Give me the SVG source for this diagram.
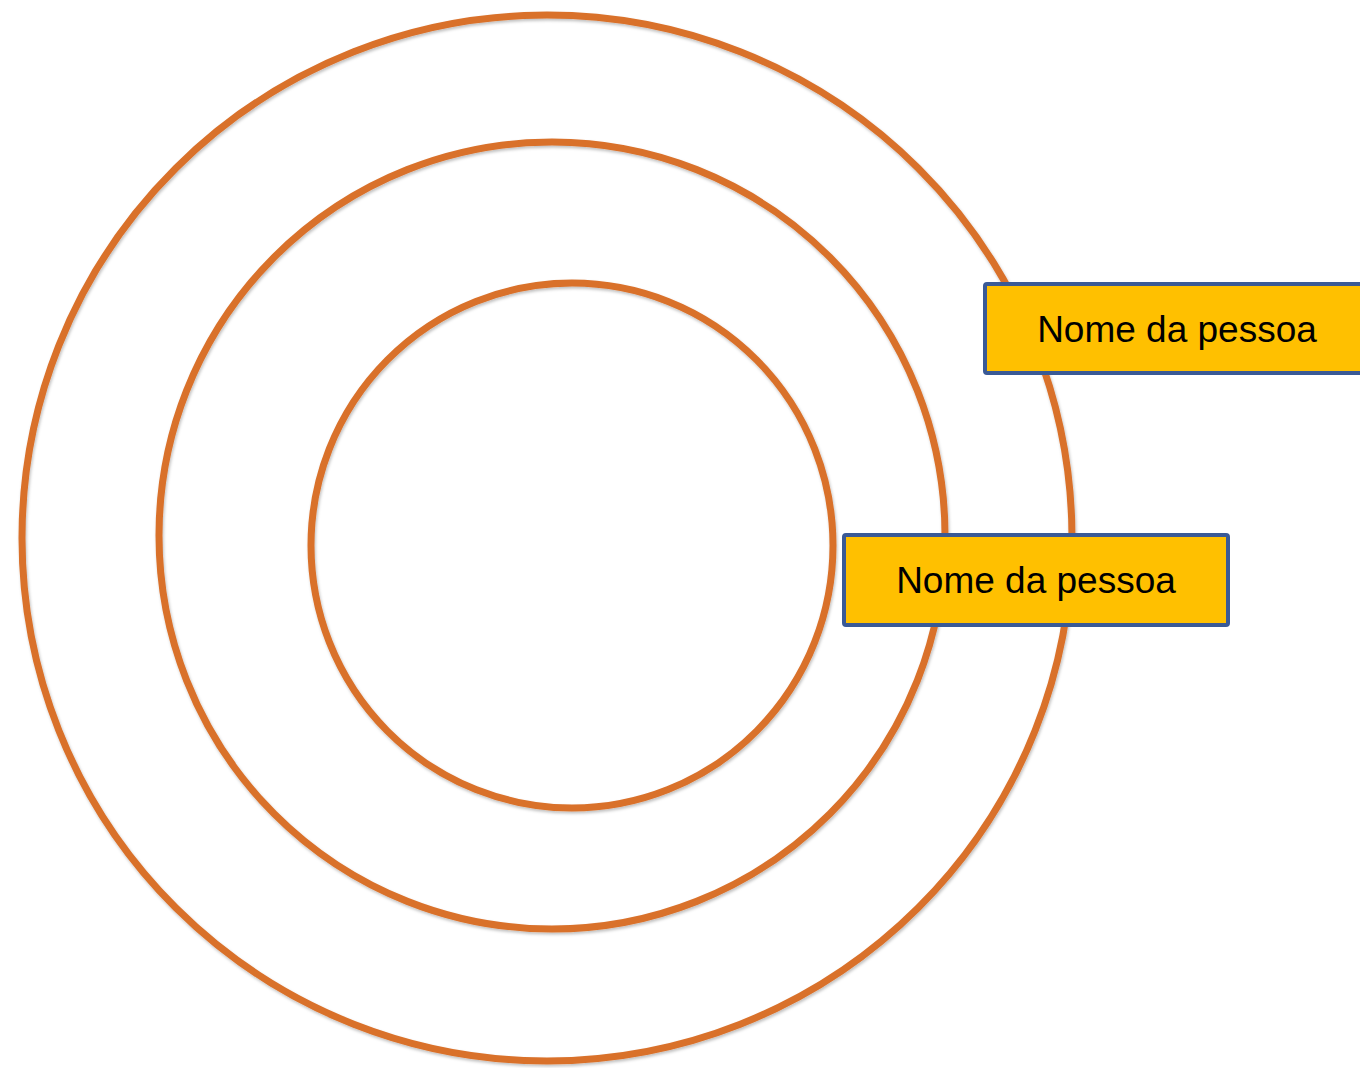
<svg xmlns="http://www.w3.org/2000/svg" width="1360" height="1068" viewBox="0 0 1360 1068">
<defs>
<filter id="sh" x="-5%" y="-5%" width="110%" height="110%">
<feDropShadow dx="1" dy="2" stdDeviation="1.5" flood-color="#000" flood-opacity="0.25"/>
</filter>
<style>
.ring{fill:none;stroke:#D9712B;stroke-width:7;filter:url(#sh)}
.box{fill:#FFC000;stroke:#3A5A96;stroke-width:4}
.lbl{font-family:"Liberation Sans",Arial,sans-serif;font-size:37px;fill:#000;text-anchor:middle}
</style>
</defs>
<rect width="1360" height="1068" fill="#fff"/>
<g id="outer-ring"><ellipse class="ring" cx="547" cy="538" rx="525" ry="523"/></g>
<g id="middle-ring"><ellipse class="ring" cx="552" cy="535.5" rx="393" ry="393.5"/></g>
<g id="inner-ring"><ellipse class="ring" cx="572" cy="545.5" rx="261" ry="262.5"/></g>
<g id="connectors"></g>
<g id="label-1"><rect class="box" x="985" y="284" width="390" height="89" rx="2"/><text class="lbl" x="1177" y="342">Nome da pessoa</text></g>
<g id="label-2"><rect class="box" x="844" y="535" width="384" height="90" rx="2"/><text class="lbl" x="1036" y="593">Nome da pessoa</text></g>
</svg>
